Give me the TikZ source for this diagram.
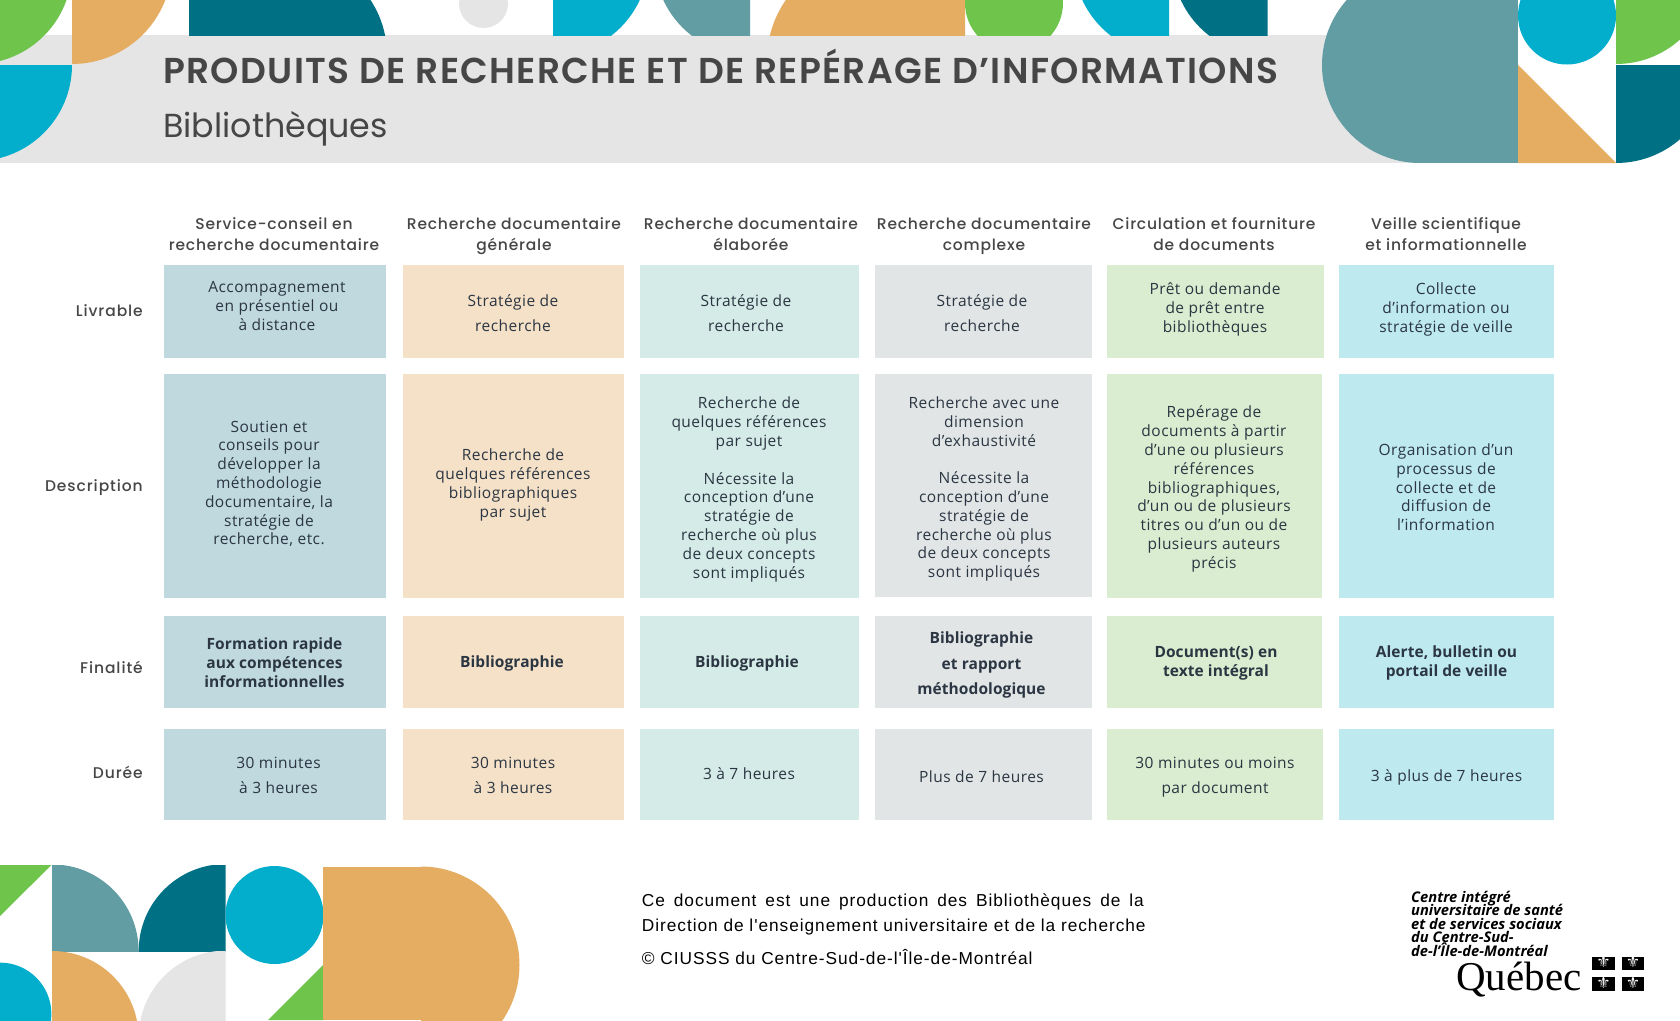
\documentclass[tikz,border=0pt]{standalone}
\usepackage{fontspec}
\setmainfont{Open Sans}
\setlength{\lineskiplimit}{-20pt}
\newfontfamily\titlef{Poppins SemiBold}[LetterSpace=3.75]
\newfontfamily\subf{Poppins}[LetterSpace=0]
\newfontfamily\headf{Poppins Medium}[LetterSpace=5]
\newfontfamily\labf{Poppins Medium}[LetterSpace=6]
\newfontfamily\bodyf{Open Sans}[LetterSpace=3]
\newfontfamily\boldf{Open Sans}[LetterSpace=0.5]
\newfontfamily\footf{Liberation Sans}[LetterSpace=5.5]
\newfontfamily\logof{Open Sans}
\newfontfamily\qcf{Liberation Serif}
\newfontfamily\symf{DejaVu Sans}
\definecolor{cgreen}{HTML}{6FC44C}
\definecolor{corange}{HTML}{E5AD62}
\definecolor{ccyan}{HTML}{02AECB}
\definecolor{cdark}{HTML}{007185}
\definecolor{cteal}{HTML}{619DA3}
\definecolor{cgray}{HTML}{E5E5E5}
\definecolor{colA}{HTML}{BFD9DF}
\definecolor{colB}{HTML}{F5E1C8}
\definecolor{colC}{HTML}{D4EBE7}
\definecolor{colD}{HTML}{E1E5E6}
\definecolor{colE}{HTML}{DAEDD0}
\definecolor{colF}{HTML}{BDE9EF}
\definecolor{inkhead}{HTML}{464646}
\definecolor{inkbody}{HTML}{2B3642}
\tikzset{
  bodytext/.style={align=center,inner sep=0pt,yshift=-3pt,text=inkbody,font=\bodyf\fontsize{15.5}{18.8}\selectfont,execute at begin node=\strut,execute at end node=\strut},
  boldtext/.style={align=center,inner sep=0pt,yshift=-3pt,text=inkbody,font=\boldf\bfseries\fontsize{15.5}{18.8}\selectfont,execute at begin node=\strut,execute at end node=\strut},
  headtext/.style={align=center,inner sep=0pt,yshift=-4.3pt,text=inkhead,font=\headf\fontsize{15.5}{21}\selectfont,execute at begin node=\strut,execute at end node=\strut},
  rowlabel/.style={anchor=east,inner sep=0pt,yshift=-2pt,text=inkhead,font=\labf\fontsize{15.5}{21}\selectfont,execute at begin node=\strut},
  foottext/.style={anchor=west,inner sep=0pt,yshift=-2pt,text=black,font=\footf\fontsize{17.3}{20}\selectfont,execute at begin node=\strut},
  logotext/.style={anchor=north west,align=left,inner sep=0pt,text=black,font=\logof\bfseries\itshape\fontsize{14.7}{13.5}\selectfont},
  flagbox/.style={fill=black,inner sep=0pt,minimum width=22.5pt,minimum height=13.5pt,text height=9pt,text depth=1pt,text=white,font=\symf\fontsize{16}{16}\selectfont},
}
% quarter pieces: clip rectangle, then disc
\newcommand{\piece}[8]{\begin{scope}\clip (#2,#3) rectangle (#4,#5);\fill[#1] (#6,#7) circle[radius=#8pt];\end{scope}}
% coloured cell: colour, x1,y1,x2,y2
\newcommand{\cellbox}[5]{\fill[#1] (#2,#3) rectangle (#4,#5);}
\begin{document}
\begin{tikzpicture}[x=1pt,y=-1pt]
\useasboundingbox (0,0) rectangle (1680,1020);
\clip (0,0) rectangle (1680,1020);
\fill[white] (0,0) rectangle (1680,1020);
% header band
\fill[cgray] (0,35) rectangle (1420,163);
% top shapes
\piece{cgreen}{0}{0}{72}{64.5}{-24}{-32}{96}
\piece{corange}{72}{0}{180}{64.5}{72}{-36}{100}
\piece{ccyan}{0}{65}{72}{163}{-24}{65}{96}
\piece{cdark}{189}{0}{400}{35}{287}{55}{100}
\fill[cdark] (189,0) rectangle (287,35);
\piece{cgray}{440}{0}{520}{40}{483.5}{3.5}{24.5}
\piece{ccyan}{553}{0}{660}{35}{553}{-40}{95.5}
\piece{cteal}{650}{0}{750}{35}{750}{-40}{95.5}
\piece{corange}{760}{0}{965}{35}{872}{60}{105}
\fill[corange] (872,0) rectangle (965,35);
\piece{cgreen}{960}{0}{1070}{35}{1014}{3}{49}
\piece{ccyan}{1070}{0}{1169}{35}{1169}{-40}{95.5}
\piece{cdark}{1170}{0}{1267.5}{35}{1267.5}{-40}{95.5}
\fill[cteal] (1420,0) rectangle (1518,163);
\fill[cteal] (1420,65) circle[radius=98pt];
\fill[ccyan] (1567,15.5) circle[radius=49pt];
\fill[corange] (1518,65) -- (1518,163) -- (1616,163) -- cycle;
\piece{cgreen}{1616}{0}{1680}{64.5}{1616}{-32}{96}
\piece{cdark}{1616}{65}{1680}{163}{1616}{65}{98}
% bottom shapes
\fill[cgreen] (0,865) -- (51.4,865) -- (0,916) -- cycle;
\piece{cteal}{52}{865}{138.6}{951}{52}{951}{86.6}
\piece{cdark}{138.6}{865}{225.7}{951}{225.7}{951}{87}
\fill[ccyan] (274.5,915) circle[radius=49pt];
\fill[cgreen] (323,965) -- (323,1020) -- (268,1020) -- cycle;
\fill[corange] (323,866.5) rectangle (421,1020);
\piece{corange}{421}{860}{530}{1020}{421}{965}{98.5}
\piece{ccyan}{0}{960}{51.4}{1020}{0}{1014}{51.4}
\piece{corange}{52}{951}{138.6}{1020}{52}{1037.6}{86.6}
\piece{cgray}{138.6}{951}{225.7}{1020}{225.7}{1037.6}{87}
% title
\node[anchor=west,inner sep=0pt,text=inkhead,font=\titlef\fontsize{36}{40}\selectfont] (title) at (163,66) {PRODUITS DE RECHERCHE ET DE REPÉRAGE D’INFORMATIONS};
\node[anchor=west,inner sep=0pt,text=inkhead,font=\subf\fontsize{33.3}{36}\selectfont] (subtitle) at (163,129) {Bibliothèques};
% column heads
\node[headtext] (h1) at (274,232.5) {Service-conseil en\\recherche documentaire};
\node[headtext] (h2) at (514,232.5) {Recherche documentaire\\générale};
\node[headtext] (h3) at (751,232.5) {Recherche documentaire\\élaborée};
\node[headtext] (h4) at (984,232.5) {Recherche documentaire\\complexe};
\node[headtext] (h5) at (1214,232.5) {Circulation et fourniture\\de documents};
\node[headtext] (h6) at (1446,232.5) {Veille scientifique\\et informationnelle};
% row labels
\node[rowlabel] (r1) at (143,310) {Livrable};
\node[rowlabel] (r2) at (143,485) {Description};
\node[rowlabel] (r3) at (143,667.5) {Finalité};
\node[rowlabel] (r4) at (143,772.5) {Durée};
% row 1
\cellbox{colA}{164}{265}{386}{358}
\cellbox{colB}{403}{265}{624}{358}
\cellbox{colC}{640}{265}{859}{358}
\cellbox{colD}{875}{265}{1092}{358}
\cellbox{colE}{1107}{265}{1324}{358}
\cellbox{colF}{1339}{265}{1554}{358}
\node[bodytext] (a1) at (277,306) {Accompagnement\\en présentiel ou\\à distance};
\node[bodytext] (a2) at (513,313) {Stratégie de\\[6pt]recherche};
\node[bodytext] (a3) at (746,313) {Stratégie de\\[6pt]recherche};
\node[bodytext] (a4) at (982,313) {Stratégie de\\[6pt]recherche};
\node[bodytext] (a5) at (1215,307.5) {Prêt ou demande\\de prêt entre\\bibliothèques};
\node[bodytext] (a6) at (1446,307.5) {Collecte\\d’information ou\\stratégie de veille};
% row 2
\cellbox{colA}{164}{374}{386}{598}
\cellbox{colB}{403}{374}{624}{598}
\cellbox{colC}{640}{374}{859}{598}
\cellbox{colD}{875}{374}{1092}{597}
\cellbox{colE}{1107}{374}{1322}{598}
\cellbox{colF}{1339}{374}{1554}{598}
\node[bodytext] (b1) at (269,482.6) {Soutien et\\conseils pour\\développer la\\méthodologie\\documentaire, la\\stratégie de\\recherche, etc.};
\node[bodytext] (b2) at (513,483) {Recherche de\\quelques références\\bibliographiques\\par sujet};
\node[bodytext] (b3) at (749,487.5) {Recherche de\\quelques références\\par sujet\\[18.8pt]Nécessite la\\conception d’une\\stratégie de\\recherche où plus\\de deux concepts\\sont impliqués};
\node[bodytext] (b4) at (984,487) {Recherche avec une\\dimension\\d’exhaustivité\\[18.8pt]Nécessite la\\conception d’une\\stratégie de\\recherche où plus\\de deux concepts\\sont impliqués};
\node[bodytext] (b5) at (1214,487) {Repérage de\\documents à partir\\d’une ou plusieurs\\références\\bibliographiques,\\d’un ou de plusieurs\\titres ou d’un ou de\\plusieurs auteurs\\précis};
\node[bodytext] (b6) at (1446,487) {Organisation d’un\\processus de\\collecte et de\\diffusion de\\l’information};
% row 3
\cellbox{colA}{164}{616}{386}{708}
\cellbox{colB}{403}{616}{624}{708}
\cellbox{colC}{640}{616}{859}{708}
\cellbox{colD}{875}{616}{1092}{708}
\cellbox{colE}{1107}{616}{1322}{708}
\cellbox{colF}{1339}{616}{1554}{708}
\node[boldtext] (c1) at (274.5,662.6) {Formation rapide\\aux compétences\\informationnelles};
\node[boldtext] (c2) at (512,661) {Bibliographie};
\node[boldtext] (c3) at (747,661) {Bibliographie};
\node[boldtext] (c4) at (981.5,663) {Bibliographie\\[6.5pt]et rapport\\[6.5pt]méthodologique};
\node[boldtext] (c5) at (1216,661) {Document(s) en\\texte intégral};
\node[boldtext] (c6) at (1446.5,661) {Alerte, bulletin ou\\portail de veille};
% row 4
\cellbox{colA}{164}{728.5}{386}{820}
\cellbox{colB}{403}{728.5}{624}{820}
\cellbox{colC}{640}{728.5}{859}{820}
\cellbox{colD}{875}{728.5}{1092}{820}
\cellbox{colE}{1107}{728.5}{1323}{820}
\cellbox{colF}{1339}{728.5}{1554}{820}
\node[bodytext] (d1) at (278.5,775) {30 minutes\\[6pt]à 3 heures};
\node[bodytext] (d2) at (513,775) {30 minutes\\[6pt]à 3 heures};
\node[bodytext] (d3) at (749,772.5) {3 à 7 heures};
\node[bodytext] (d4) at (981.5,776) {Plus de 7 heures};
\node[bodytext] (d5) at (1215,775) {30 minutes ou moins\\[6pt]par document};
\node[bodytext] (d6) at (1446.5,775) {3 à plus de 7 heures};
% footer
\node[foottext] (f1) at (641.7,900) {\makebox[502pt][s]{Ce document est une production des Bibliothèques de la}};
\node[foottext] (f2) at (641.7,925) {Direction de l'enseignement universitaire et de la recherche};
\node[foottext] (f3) at (641.7,958) {© CIUSSS du Centre-Sud-de-l'Île-de-Montréal};
% logo
\node[logotext] (logo) at (1411,891) {Centre intégré\\universitaire de santé\\et de services sociaux\\du Centre-Sud-\\de-l’Île-de-Montréal};
\node[inner sep=0pt,anchor=base west,text=black,font=\qcf\fontsize{41}{41}\selectfont] (qc) at (1456,990) {Québec};
\node[flagbox] (fl1) at (1603.5,963.5) {⚜};
\node[flagbox] (fl2) at (1633,963.5) {⚜};
\node[flagbox] (fl3) at (1603.5,984) {⚜};
\node[flagbox] (fl4) at (1633,984) {⚜};
\end{tikzpicture}
\end{document}
